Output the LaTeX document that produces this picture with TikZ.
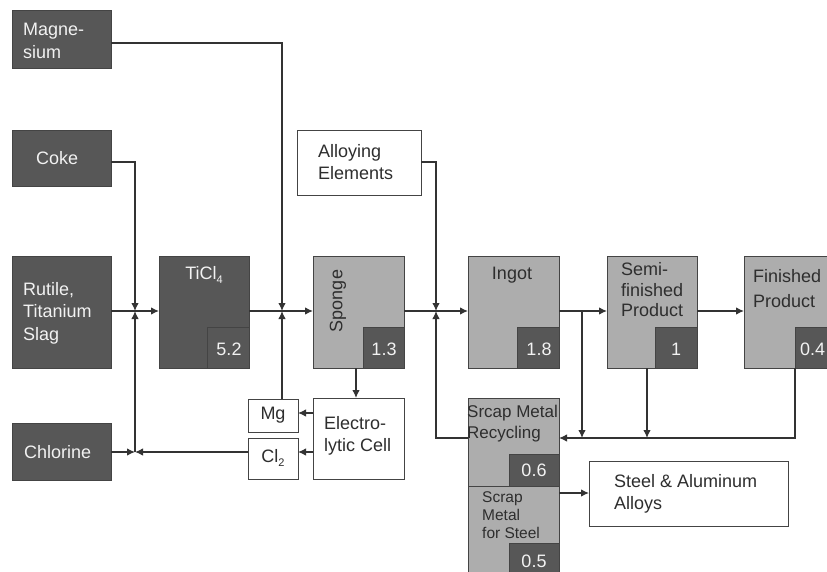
\documentclass[tikz,border=0pt]{standalone}
\usepackage{fontspec}
\setmainfont{Liberation Sans}
\usetikzlibrary{arrows.meta}
\definecolor{darkg}{HTML}{575757}
\definecolor{lightg}{HTML}{ADADAD}
\definecolor{bordc}{HTML}{444444}
\definecolor{linec}{HTML}{333333}
\definecolor{textk}{HTML}{2E2E2E}
\definecolor{textw}{HTML}{F2F2F2}
\newcommand\fsa{\fontsize{18}{22.5}\selectfont}
\newcommand\fsb{\fontsize{15.5}{18}\selectfont}
\tikzset{
  boxbase/.style={draw=bordc, line width=0.9pt, anchor=north west, inner sep=0pt, outer sep=0pt},
  dbox/.style={boxbase, fill=darkg},
  lbox/.style={boxbase, fill=lightg},
  wbox/.style={boxbase, fill=white},
  wtxt/.style={text=textw, font=\fsa, align=left, inner sep=0pt},
  ktxt/.style={text=textk, font=\fsa, align=left, inner sep=0pt},
  flow/.style={draw=linec, line width=1.2pt, -{Latex[length=8pt,width=7.5pt]}},
  plain/.style={draw=linec, line width=1.2pt}
}
\begin{document}
\begin{tikzpicture}[x=1pt,y=-1pt]
\useasboundingbox (0,0) rectangle (827,572);
\clip (0,0) rectangle (827,572);
\fill[white] (0,0) rectangle (827,572);

% junction coordinates
\coordinate (j1) at (135,311);
\coordinate (j2) at (282,311);
\coordinate (j3) at (436,311);
\coordinate (jc) at (135,452);
\coordinate (js) at (582,311);

% ---------- boxes ----------
\node[dbox, minimum width=99pt, minimum height=58pt] (mag) at (12,10) {};
\node[dbox, minimum width=99pt, minimum height=56pt] (coke) at (12,130) {};
\node[dbox, minimum width=99pt, minimum height=112pt] (rut) at (12,256) {};
\node[dbox, minimum width=99pt, minimum height=57pt] (chl) at (12,423) {};

\node[dbox, minimum width=90pt, minimum height=112pt] (ticl) at (159,256) {};
\node[dbox, minimum width=42pt, minimum height=41pt] (ticln) at (207,327) {};

\node[lbox, minimum width=91pt, minimum height=112pt] (spg) at (313,256) {};
\node[dbox, minimum width=41pt, minimum height=41pt] (spgn) at (363,327) {};

\node[wbox, minimum width=124pt, minimum height=65pt] (alloy) at (297,130) {};

\node[wbox, minimum width=50pt, minimum height=33pt] (mgb) at (248,399) {};
\node[wbox, minimum width=50pt, minimum height=41pt] (clb) at (248,438) {};
\node[wbox, minimum width=91pt, minimum height=81pt] (elc) at (313,398) {};

\node[lbox, minimum width=91pt, minimum height=112pt] (ing) at (468,256) {};
\node[dbox, minimum width=42pt, minimum height=41pt] (ingn) at (517,327) {};

\node[lbox, minimum width=90pt, minimum height=112pt] (semi) at (607,256) {};
\node[dbox, minimum width=42pt, minimum height=41pt] (semin) at (655,327) {};

\node[lbox, minimum width=100pt, minimum height=112pt] (fin) at (744,256) {};
\node[dbox, minimum width=50pt, minimum height=41pt] (finn) at (795,327) {};

\node[lbox, minimum width=91pt, minimum height=88pt] (rec) at (468,398) {};
\node[dbox, minimum width=50pt, minimum height=32pt] (recn) at (509,454) {};
\node[lbox, minimum width=91pt, minimum height=100pt] (stl) at (468,486) {};
\node[dbox, minimum width=50pt, minimum height=40pt] (stln) at (509,543) {};

\node[wbox, minimum width=199pt, minimum height=65pt] (alu) at (589,461) {};

% ---------- connectors ----------
\draw[flow] (rut.east |- j1) -- (ticl.west |- j1);
\draw[flow] (ticl.east |- j2) -- (spg.west |- j2);
\draw[flow] (spg.east |- j3) -- (ing.west |- j3);
\draw[flow] (ing.east |- js) -- (semi.west |- js);
\draw[flow] (semi.east |- js) -- (fin.west |- js);

\draw[flow] (coke.east |- 0,162) -| (j1);
\draw[flow] (jc) -- (j1);
\draw[flow] (chl.east |- jc) -- (jc);
\draw[flow] (clb.west |- jc) -- (jc);

\draw[flow] (mag.east |- 0,43) -| (j2);
\draw[flow] (mgb.north -| j2) -- (j2);

\draw[flow] (alloy.east |- 0,162) -| (j3);
\draw[flow] (rec.west |- 0,438) -| (j3);

\draw[flow] (spg.south -| 356,0) -- (elc.north -| 356,0);
\draw[flow] (elc.west |- 0,413) -- (mgb.east |- 0,413);
\draw[flow] (elc.west |- 0,452) -- (clb.east |- 0,452);

\draw[flow] (finn.south west) |- (rec.east |- 0,438);
\draw[flow] (js) -- (582,438);
\draw[flow] (semi.south -| 647,0) -- (647,438);

\draw[flow] (stl.east |- 0,493) -- (alu.west |- 0,493);

% ---------- texts ----------
\node[wtxt, anchor=west] (magt) at (23,41) {Magne-\\sium};
\node[wtxt, anchor=west] (coket) at (36,158) {Coke};
\node[wtxt, anchor=west] (rutt) at (23,313) {Rutile,\\Titanium\\Slag};
\node[wtxt, anchor=west] (chlt) at (24,452) {Chlorine};

\node[wtxt] (ticlt) at (204,275) {TiCl\raisebox{-0.5ex}{\fontsize{11}{11}\selectfont 4}};
\node[wtxt] (ticlnt) at (229,349) {5.2};

\node[ktxt, rotate=90] (spgt) at (338,301) {Sponge};
\node[wtxt] (spgnt) at (384,349) {1.3};

\node[ktxt, anchor=west] (alloyt) at (318,162) {Alloying\\Elements};

\node[ktxt] (mgt) at (273,415) {Mg};
\node[ktxt] (clt) at (273,458) {Cl\raisebox{-0.5ex}{\fontsize{11}{11}\selectfont 2}};
\node[ktxt, anchor=west] (elct) at (324,436) {Electro-\\lytic Cell};

\node[ktxt] (ingt) at (512,275) {Ingot};
\node[wtxt] (ingnt) at (539,349) {1.8};

\node[ktxt, anchor=west, font=\fontsize{18}{20.5}\selectfont] (semit) at (621,290) {Semi-\\finished\\Product};
\node[wtxt] (seminit) at (676,349) {1};

\node[ktxt, anchor=west, font=\fontsize{18}{25}\selectfont] (fint) at (753,289) {Finished\\Product};
\node[wtxt, anchor=west] (finnt) at (800,349) {0.4};

\node[ktxt, anchor=west, font=\fontsize{17}{21}\selectfont] (rect) at (467,424) {Srcap Metal\\Recycling};
\node[wtxt] (recnt) at (534,470) {0.6};
\node[ktxt, anchor=west, font=\fsb] (stlt) at (482,515) {Scrap\\Metal\\for Steel};
\node[wtxt] (stlnt) at (534,561) {0.5};

\node[ktxt, anchor=west] (alut) at (614,494) {Steel \& Aluminum\\Alloys};
\end{tikzpicture}
\end{document}
